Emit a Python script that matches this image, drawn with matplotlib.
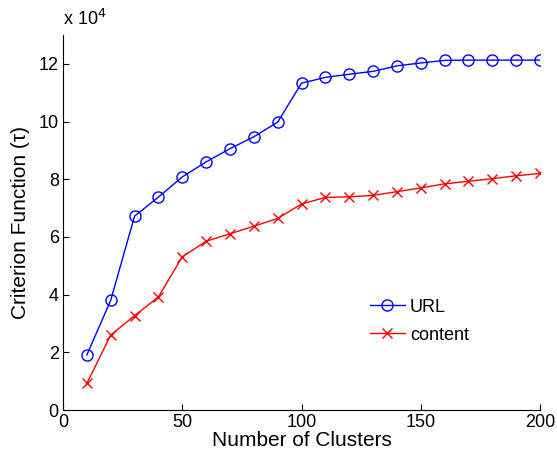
import matplotlib
matplotlib.use("Agg")
import matplotlib.pyplot as plt
from matplotlib.ticker import FuncFormatter

plt.rcParams["font.family"] = ["Liberation Sans", "DejaVu Sans"]

clusters = [10, 20, 30, 40, 50, 60, 70, 80, 90, 100,
            110, 120, 130, 140, 150, 160, 170, 180, 190, 200]
url_vals = [1.91, 3.80, 6.72, 7.38, 8.08, 8.60, 9.06, 9.47, 9.98, 11.33,
            11.53, 11.64, 11.74, 11.93, 12.03, 12.12, 12.13, 12.13, 12.13, 12.13]
content_vals = [0.92, 2.60, 3.27, 3.92, 5.31, 5.85, 6.11, 6.37, 6.64, 7.14,
                7.37, 7.39, 7.44, 7.57, 7.70, 7.84, 7.93, 8.02, 8.12, 8.20]
url_vals = [v * 1e4 for v in url_vals]
content_vals = [v * 1e4 for v in content_vals]

fig = plt.figure(figsize=(5.57, 4.54), dpi=100)
ax = fig.add_axes([0.1131, 0.0969, 0.8564, 0.826])

ax.plot(clusters, url_vals, color="blue", lw=1.0, marker="o", ms=8,
        mfc="none", mec="blue", mew=1.0, label="URL")
ax.plot(clusters, content_vals, color="red", lw=1.0, marker="x", ms=7,
        mec="red", mew=1.0, label="content")

ax.set_xlim(0, 200)
ax.set_ylim(0, 13e4)
ax.set_xticks([0, 50, 100, 150, 200])
ax.set_yticks([0, 2e4, 4e4, 6e4, 8e4, 10e4, 12e4])
ax.yaxis.set_major_formatter(FuncFormatter(lambda v, p: f"{v / 1e4:g}"))
ax.tick_params(direction="in", length=4, width=0.8, labelsize=13, pad=3)

for side in ("top", "right"):
    ax.spines[side].set_visible(False)

ax.set_xlabel("Number of Clusters", fontsize=15, labelpad=0)
ax.set_ylabel("Criterion Function (τ)", fontsize=15, labelpad=6)
ax.text(0.0, 1.015, r"x 10$^4$", transform=ax.transAxes, fontsize=13,
        ha="left", va="bottom")

ax.legend(loc="upper left", bbox_to_anchor=(0.61, 0.34), frameon=False,
          fontsize=13, handlelength=1.9, handletextpad=0.3, labelspacing=0.6)

fig.savefig("out.png", dpi=100)
